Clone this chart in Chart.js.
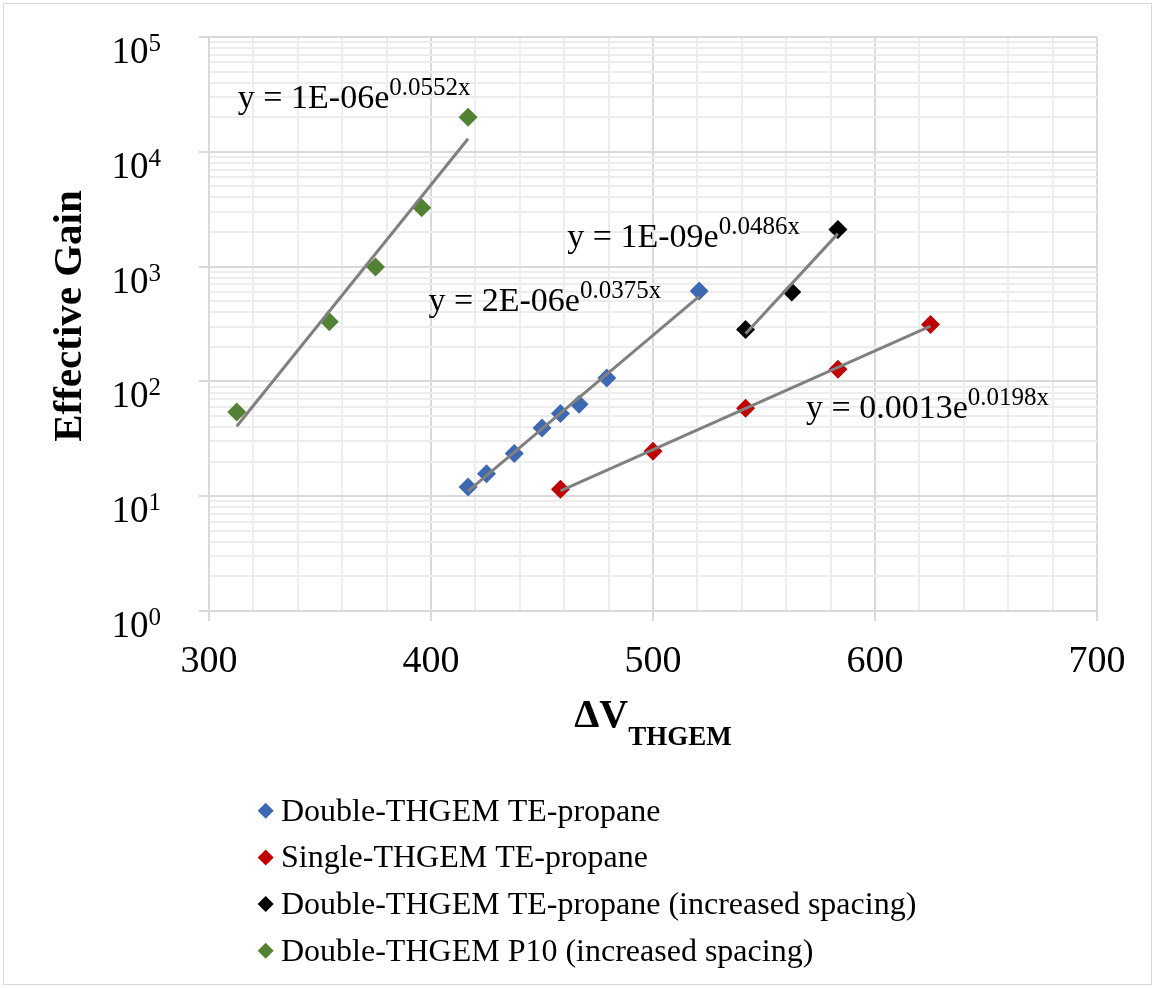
<!DOCTYPE html>
<html>
<head>
<meta charset="utf-8">
<title>Effective Gain vs ΔV</title>
<script src="https://cdn.jsdelivr.net/npm/chart.js@4.4.0/dist/chart.umd.min.js"></script>
<style>
  html, body { margin: 0; padding: 0; background: #fff; }
  #wrap { width: 1155px; height: 988px; }
</style>
</head>
<body>
<div id="wrap"><canvas id="gainChart" width="1155" height="988"></canvas></div>
<script>
// measured points: THGEM voltage (V) and effective gain
const doubleTeX = [416.7, 425, 437.5, 450, 458.3, 466.7, 479.2, 520.8];
const doubleTeGain = [12.0, 15.7, 23.5, 39.3, 52.4, 63.1, 107, 614];
const singleTeX = [458.3, 500, 541.7, 583.3, 625];
const singleTeGain = [11.5, 24.6, 58.3, 127.5, 313];
const doubleTeWideX = [541.7, 562.5, 583.3];
const doubleTeWideGain = [283, 602, 2105];
const doubleP10X = [312.5, 354.2, 375, 395.8, 416.7];
const doubleP10Gain = [54, 330, 990, 3250, 20000];

const seriesNames = [
  'Double-THGEM TE-propane',
  'Single-THGEM TE-propane',
  'Double-THGEM TE-propane (increased spacing)',
  'Double-THGEM P10 (increased spacing)'
];
const seriesColors = ['#3d69b2', '#c00000', '#000000', '#548235'];

const xTickLabels = [300, 400, 500, 600, 700];
const yExponents = [0, 1, 2, 3, 4, 5];

// trendline equations, anchored at (x, gain) of the text's left baseline
const fitTexts = [
  { base: 'y = 2E-06e', sup: '0.0375x', x: 398.9, gain: 408 },
  { base: 'y = 0.0013e', sup: '0.0198x', x: 568.9, gain: 47.6 },
  { base: 'y = 1E-09e', sup: '0.0486x', x: 461.4, gain: 1475 },
  { base: 'y = 1E-06e', sup: '0.0552x', x: 313, gain: 24040 }
];

const FONT = '"Liberation Serif", "Times New Roman", serif';

const seriesX = [doubleTeX, singleTeX, doubleTeWideX, doubleP10X];
const seriesY = [doubleTeGain, singleTeGain, doubleTeWideGain, doubleP10Gain];

// least squares fit of ln(y) = ln(a) + b x
function expFit(xs, ys) {
  const n = xs.length;
  const ly = ys.map(v => Math.log(v));
  const mx = xs.reduce((s, v) => s + v, 0) / n;
  const my = ly.reduce((s, v) => s + v, 0) / n;
  let sxy = 0, sxx = 0;
  xs.forEach((x, i) => {
    sxy += (x - mx) * (ly[i] - my);
    sxx += (x - mx) * (x - mx);
  });
  const b = sxy / sxx;
  return { a: Math.exp(my - b * mx), b };
}

const datasets = [];
seriesX.forEach((xs, i) => {
  const fit = expFit(xs, seriesY[i]);
  const x0 = Math.min(...xs), x1 = Math.max(...xs);
  datasets.push({
    label: seriesNames[i] + ' fit',
    isTrend: true,
    data: [x0, x1].map(x => ({ x, y: fit.a * Math.exp(fit.b * x) })),
    showLine: true,
    borderColor: '#808080',
    borderWidth: 3,
    pointRadius: 0,
    order: 0
  });
  datasets.push({
    label: seriesNames[i],
    data: xs.map((x, j) => ({ x, y: seriesY[i][j] })),
    pointStyle: 'rectRot',
    pointRadius: 9.5,
    pointHoverRadius: 9.5,
    borderWidth: 0,
    backgroundColor: seriesColors[i],
    borderColor: seriesColors[i],
    showLine: false,
    order: 1
  });
});

function drawSup(ctx, base, sup, x, y, baseSize, supSize, rise, bold) {
  const w = bold ? 'bold ' : '';
  ctx.font = w + baseSize + 'px ' + FONT;
  const wb = ctx.measureText(base).width;
  ctx.fillText(base, x, y);
  ctx.font = w + supSize + 'px ' + FONT;
  ctx.fillText(sup, x + wb, y - rise);
}

const decorations = {
  id: 'decorations',
  beforeDraw(chart) {
    const ctx = chart.ctx;
    ctx.save();
    ctx.fillStyle = '#fff';
    ctx.fillRect(0, 0, chart.width, chart.height);
    ctx.strokeStyle = '#d9d9d9';
    ctx.lineWidth = 1;
    ctx.strokeRect(3.5, 3.5, chart.width - 7, chart.height - 7);
    ctx.restore();
  },
  afterDraw(chart) {
    const { ctx, scales: { x, y } } = chart;
    ctx.save();
    ctx.fillStyle = '#000';
    ctx.textBaseline = 'alphabetic';

    // x tick labels
    ctx.font = '38px ' + FONT;
    ctx.textAlign = 'center';
    xTickLabels.forEach(v => ctx.fillText(String(v), x.getPixelForValue(v), y.bottom + 61));

    // y tick labels as powers of ten
    ctx.textAlign = 'left';
    yExponents.forEach(e => {
      const py = y.getPixelForValue(Math.pow(10, e));
      ctx.font = '37px ' + FONT;
      const wb = ctx.measureText('10').width;
      ctx.font = '25px ' + FONT;
      const ws = ctx.measureText(String(e)).width;
      drawSup(ctx, '10', String(e), 161 - wb - ws, py + 26, 37, 25, 12, false);
    });

    // trendline equations
    fitTexts.forEach(t => {
      drawSup(ctx, t.base, t.sup, x.getPixelForValue(t.x), y.getPixelForValue(t.gain), 34, 25, 13, false);
    });

    // axis titles
    ctx.save();
    ctx.translate(81, 316);
    ctx.rotate(-Math.PI / 2);
    ctx.textAlign = 'center';
    ctx.font = 'bold 41px ' + FONT;
    ctx.fillText('Effective Gain', 0, 0);
    ctx.restore();

    ctx.font = 'bold 40px ' + FONT;
    const wMain = ctx.measureText('ΔV').width;
    ctx.font = 'bold 27px ' + FONT;
    const wSub = ctx.measureText('THGEM').width;
    const cx = (x.left + x.right) / 2;
    const sx = cx - (wMain + wSub) / 2;
    ctx.textAlign = 'left';
    ctx.font = 'bold 40px ' + FONT;
    ctx.fillText('ΔV', sx, 727);
    ctx.font = 'bold 27px ' + FONT;
    ctx.fillText('THGEM', sx + wMain, 745);

    // legend
    const marks = chart.data.datasets.filter(d => !d.isTrend);
    ctx.font = '32px ' + FONT;
    marks.forEach((d, i) => {
      const cy = 810.7 + i * 46.7;
      const mx = 265.7, r = 8;
      ctx.fillStyle = d.backgroundColor;
      ctx.beginPath();
      ctx.moveTo(mx - r, cy);
      ctx.lineTo(mx, cy - r);
      ctx.lineTo(mx + r, cy);
      ctx.lineTo(mx, cy + r);
      ctx.closePath();
      ctx.fill();
      ctx.fillStyle = '#000';
      ctx.fillText(d.label, 281, cy + 10);
    });
    ctx.restore();
  }
};

new Chart(document.getElementById('gainChart'), {
  type: 'scatter',
  data: { datasets },
  options: {
    responsive: false,
    animation: false,
    devicePixelRatio: 1,
    layout: { padding: { top: 37, right: 58, left: 0, bottom: 0 } },
    plugins: {
      legend: { display: false },
      tooltip: { enabled: false }
    },
    scales: {
      x: {
        type: 'linear',
        min: 300,
        max: 700,
        ticks: { stepSize: 20, callback: () => '' },
        grid: {
          color: c => (c.tick && c.tick.value % 100 === 0) ? '#d9d9d9' : '#ededed',
          lineWidth: 2,
          tickLength: 10,
          tickColor: c => (c.tick && c.tick.value % 100 === 0) ? '#d9d9d9' : 'rgba(0,0,0,0)'
        },
        border: { color: '#d9d9d9', width: 2 },
        afterFit: s => { s.height = 377; }
      },
      y: {
        type: 'logarithmic',
        min: 1,
        max: 100000,
        ticks: { autoSkip: false, callback: () => '' },
        afterBuildTicks: s => {
          const ticks = [];
          yExponents.forEach(e => {
            for (let k = 1; k <= 9; k++) {
              const v = k * Math.pow(10, e);
              if (v <= 100000) ticks.push({ value: v, major: k === 1 });
            }
          });
          s.ticks = ticks;
        },
        grid: {
          color: c => (c.tick && c.tick.major) ? '#d9d9d9' : '#ededed',
          lineWidth: 2,
          tickLength: 10,
          tickColor: c => (c.tick && c.tick.major) ? '#d9d9d9' : 'rgba(0,0,0,0)'
        },
        border: { color: '#d9d9d9', width: 2 },
        afterFit: s => { s.width = 209; }
      }
    }
  },
  plugins: [decorations]
});
</script>
</body>
</html>
